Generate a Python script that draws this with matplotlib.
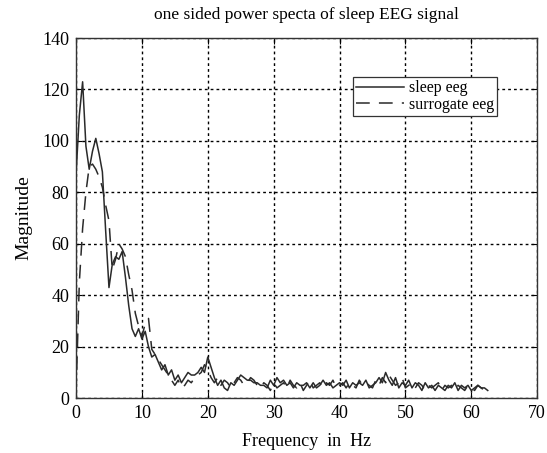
import numpy as np
import matplotlib
matplotlib.use("Agg")
import matplotlib.pyplot as plt

freq = np.arange(126) * 0.5  # 0 .. 62.5 Hz frequency bins

sleep_eeg = [87, 110, 123, 98, 89, 96, 101, 95, 88, 65,
             43, 52, 55, 54, 57, 47, 36, 27, 24, 27,
             23, 26, 20, 16, 17, 14, 11, 13, 9, 11,
             7, 9, 6, 8, 10, 9, 9, 10, 12, 10,
             16, 12, 8, 5, 7, 4, 3, 6, 5, 7,
             9, 8, 7, 7, 6, 6, 5, 5, 4, 7,
             5, 8, 6, 7, 5, 6, 4, 6, 5, 5,
             6, 4, 6, 4, 5, 7, 5, 6, 4, 5,
             6, 5, 7, 4, 6, 5, 6, 5, 7, 4,
             5, 6, 8, 6, 10, 7, 5, 8, 4, 6,
             5, 7, 4, 6, 5, 3, 6, 4, 5, 3,
             5, 4, 3, 5, 4, 6, 3, 5, 4, 5,
             3, 4, 5, 4, 4, 3]

surrogate_eeg = [2, 45, 66, 80, 90, 91, 89, 86, 82, 75,
                 69, 50, 54, 60, 58, 55, 48, 42, 33, 28,
                 24, 29, 31, 19, 17, 15, 13, 11, 9, 7,
                 5, 7, 4, 5, 7, 6, 8, 9, 10, 13,
                 11, 8, 6, 8, 5, 7, 6, 4, 6, 8,
                 7, 5, 6, 8, 7, 5, 4, 6, 5, 3,
                 6, 4, 5, 6, 4, 7, 5, 4, 6, 3,
                 5, 7, 4, 5, 6, 4, 6, 5, 7, 4,
                 5, 6, 4, 6, 5, 4, 7, 5, 6, 5,
                 4, 7, 5, 8, 6, 9, 7, 5, 6, 8,
                 4, 5, 6, 4, 6, 5, 3, 5, 4, 5,
                 6, 3, 5, 4, 5, 3, 5, 4, 3, 5,
                 4, 3, 5, 4, 3, 4]

x_ticks = [0, 10, 20, 30, 40, 50, 60, 70]
y_ticks = [0, 20, 40, 60, 80, 100, 120, 140]

plt.rcParams['font.family'] = ['Liberation Serif', 'DejaVu Serif']

fig = plt.figure(figsize=(5.47, 4.53), dpi=100)
ax = fig.add_axes([0.139, 0.121, 0.843, 0.795])

ax.plot(freq, sleep_eeg, color='#2a2a2a', lw=1.1, label='sleep eeg')
ax.plot(freq, surrogate_eeg, color='#2a2a2a', lw=1.1, dashes=(9, 6), label='surrogate eeg')

ax.set_xlim(0, 70)
ax.set_ylim(0, 140)
ax.set_xticks(x_ticks)
ax.set_yticks(y_ticks)
ax.tick_params(direction='in', labelsize=13, length=4, top=True, right=True,
               labeltop=False, labelright=False, pad=5)
ax.grid(True, color='black', linestyle=(0, (2, 2.2)), linewidth=1.0)
for s in ax.spines.values():
    s.set_color('#333333')
    s.set_linewidth(1.0)

ax.set_xlabel('Frequency  in  Hz', fontsize=13, labelpad=8)
ax.set_ylabel('Magnitude', fontsize=14, labelpad=7)
ax.set_title('one sided power specta of sleep EEG signal', fontsize=12.5, pad=14)

leg = ax.legend(loc='upper right', bbox_to_anchor=(0.913, 0.892), fontsize=11.5,
                frameon=True, fancybox=False, edgecolor='#333333', framealpha=1,
                handlelength=3.0, handletextpad=0.3, borderpad=0.2,
                labelspacing=0.05, borderaxespad=0)
leg.get_frame().set_linewidth(0.9)

fig.savefig('out.png', dpi=100)
